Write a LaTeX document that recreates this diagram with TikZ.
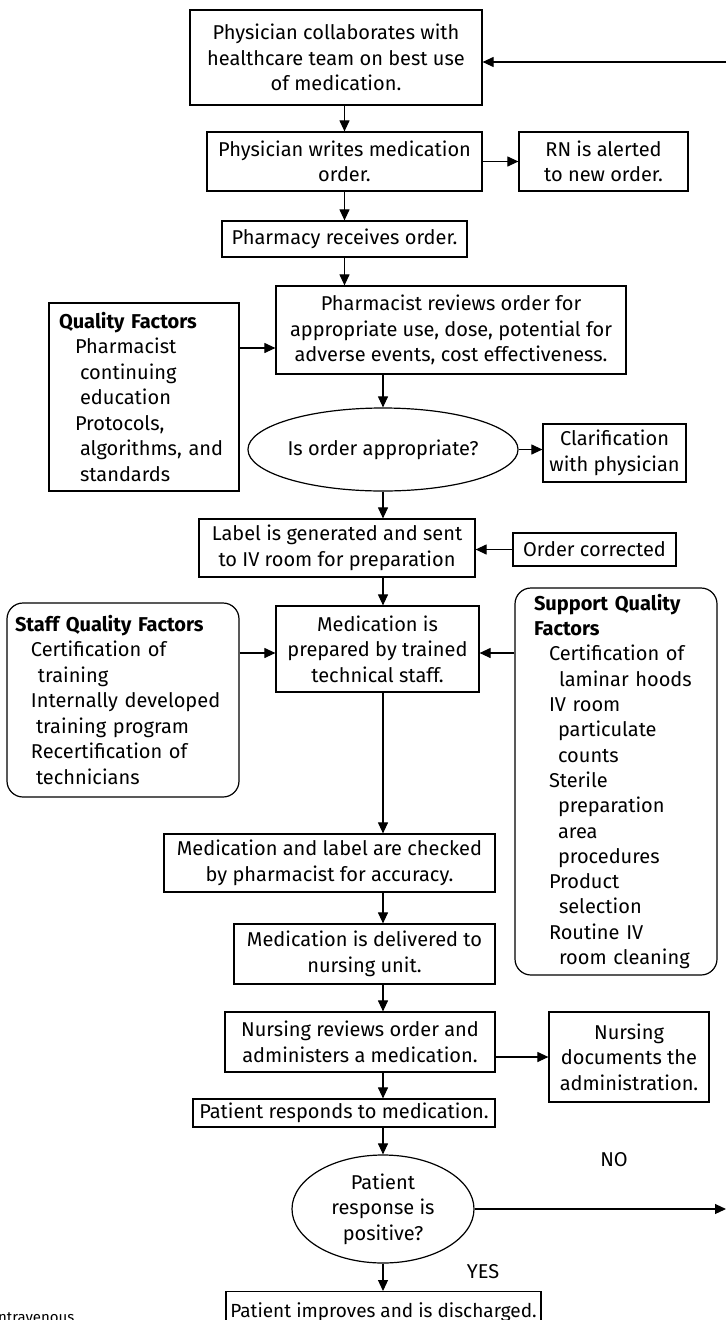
\documentclass[tikz,border=0pt]{standalone}
\usepackage{fontspec}
\setmainfont{Fira Sans}
\usetikzlibrary{arrows.meta,shapes.geometric}
\begin{document}
\begin{tikzpicture}[x=1pt,y=-1pt,
  every node/.style={font=\fontsize{20}{25.5}\selectfont, inner sep=0pt},
  box/.style={draw, line width=1.2pt, align=center},
  rbox/.style={draw, line width=1.2pt, rounded corners=16pt, align=left},
  ell/.style={draw, line width=1.2pt, ellipse, align=center},
  arr/.style={line width=1.1pt, -{Triangle[length=11pt,width=10pt]}},
  lbl/.style={font=\fontsize{20}{22}\selectfont}]
\useasboundingbox (0,0) rectangle (726,1320);
\clip (0,0) rectangle (726,1320);
% boxes
\node[box, minimum width=292, minimum height=95] (b1) at (336,57.5) {Physician collaborates with\\healthcare team on best use\\of medication.};
\node[box, minimum width=275, minimum height=59] (b2) at (344.5,161.5) {Physician writes medication\\order.};
\node[box, minimum width=169, minimum height=59] (rn) at (603.5,161.5) {RN is alerted\\to new order.};
\node[box, minimum width=245, minimum height=36] (b3) at (344.5,239) {Pharmacy receives order.};
\node[box, minimum width=350, minimum height=88] (b4) at (451,330) {Pharmacist reviews order for\\appropriate use, dose, potential for\\adverse events, cost effectiveness.};
\node[box, minimum width=190, minimum height=188, text width=170, inner xsep=10, align=left] (qf) at (144,397)
  {{\bfseries Quality Factors}\\
   \hspace*{16pt}Pharmacist\\
   \hspace*{21pt}continuing\\
   \hspace*{21pt}education\\
   \hspace*{16pt}Protocols,\\
   \hspace*{21pt}algorithms, and\\
   \hspace*{21pt}standards};
\node[ell, minimum width=244, minimum height=83] (e1) at (383,449.5) {Is order appropriate?};
\node[box, minimum width=143, minimum height=58] (cl) at (614.5,453) {Clarification\\with physician};
\node[box, minimum width=276, minimum height=58] (lb) at (337,548) {Label is generated and sent\\to IV room for preparation};
\node[box, minimum width=163, minimum height=33] (oc) at (594.5,549.5) {Order corrected};
\node[box, minimum width=203, minimum height=86] (mp) at (377.5,649) {Medication is\\prepared by trained\\technical staff.};
\node[rbox, minimum width=232, minimum height=194, text width=216, inner xsep=8] (st) at (123,700)
  {{\bfseries Staff Quality Factors}\\
   \hspace*{16pt}Certification of\\
   \hspace*{23pt}training\\
   \hspace*{16pt}Internally developed\\
   \hspace*{21pt}training program\\
   \hspace*{16pt}Recertification of\\
   \hspace*{21pt}technicians};
\node[rbox, minimum width=202, minimum height=387, text width=186, inner xsep=8, font=\fontsize{20}{25.3}\selectfont] (sp) at (616,781.5)
  {\hspace*{11pt}{\bfseries Support Quality}\\\hspace*{11pt}{\bfseries Factors}\\
   \hspace*{26pt}Certification of\\
   \hspace*{36pt}laminar hoods\\
   \hspace*{26pt}IV room\\
   \hspace*{35pt}particulate\\
   \hspace*{35pt}counts\\
   \hspace*{26pt}Sterile\\
   \hspace*{35pt}preparation\\
   \hspace*{35pt}area\\
   \hspace*{35pt}procedures\\
   \hspace*{26pt}Product\\
   \hspace*{36pt}selection\\
   \hspace*{26pt}Routine IV\\
   \hspace*{36pt}room cleaning};
\node[box, minimum width=331, minimum height=58] (mc) at (329.5,863) {Medication and label are checked\\by pharmacist for accuracy.};
\node[box, minimum width=261, minimum height=60] (md) at (364.5,954) {Medication is delivered to\\nursing unit.};
\node[box, minimum width=270, minimum height=60] (nr) at (360,1042) {Nursing reviews order and\\administers a medication.};
\node[box, minimum width=160, minimum height=90] (nd) at (629,1057) {Nursing\\documents the\\administration.};
\node[box, minimum width=302, minimum height=28] (pr) at (344,1113) {Patient responds to medication.};
\node[ell, minimum width=182, minimum height=108] (e2) at (383,1209) {Patient\\response is\\positive?};
\node[box, minimum width=315, minimum height=40, anchor=north, font=\fontsize{19}{22}\selectfont] (pi) at (383.5,1291) {Patient improves and is discharged.};
% labels
\node[lbl] (no) at (614,1160) {NO};
\node[lbl] (yes) at (483,1272) {YES};
\node[anchor=base west, font=\rmfamily\fontsize{15}{18}\selectfont] (iv) at (-2,1322) {ntravenous};
% coordinates
\coordinate (tr) at (726,62);
\coordinate (br) at (726,1209);
\coordinate (col) at (383,0);
\coordinate (yq) at (0,348);
\coordinate (ym) at (0,653);
% connectors
\draw[arr] (tr) -- (tr -| b1.east);
\draw[arr] (b1.south -| b2.north) -- (b2.north);
\draw[arr] (b2.east) -- (rn.west);
\draw[arr] (b2.south) -- (b3.north);
\draw[arr] (b3.south -| b2.north) -- (b4.north -| b2.north);
\draw[arr] (b4.south -| e1.north) -- (e1.north);
\draw[arr] (qf.east |- yq) -- (b4.west |- yq);
\draw[arr] (e1.east) -- (e1.east -| cl.west);
\draw[arr] (e1.south) -- (e1.south |- lb.north);
\draw[arr] (oc.west) -- (oc.west -| lb.east);
\draw[arr] (lb.south -| col) -- (mp.north -| col);
\draw[arr] (st.east |- ym) -- (mp.west |- ym);
\draw[arr] (sp.west |- ym) -- (mp.east |- ym);
\draw[arr] (mp.south -| col) -- (mc.north -| col);
\draw[arr] (mc.south -| col) -- (md.north -| col);
\draw[arr] (md.south -| col) -- (nr.north -| col);
\draw[arr] (nd.west -| nr.east) -- (nd.west);
\draw[arr] (nr.south -| col) -- (pr.north -| col);
\draw[arr] (pr.south -| col) -- (e2.north);
\draw[arr] (e2.east) -- (br);
\draw[arr] (e2.south) -- (e2.south |- pi.north);
\end{tikzpicture}
\end{document}
